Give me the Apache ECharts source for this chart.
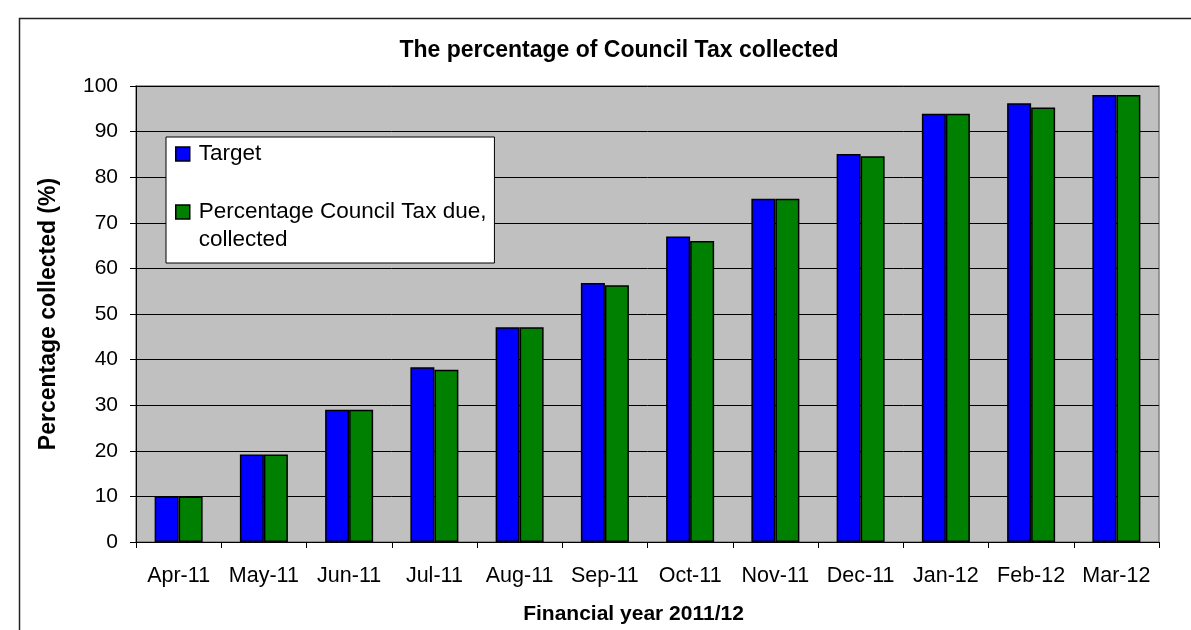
<!DOCTYPE html>
<html>
<head>
<meta charset="utf-8">
<script src="https://cdn.jsdelivr.net/npm/echarts@6/dist/echarts.min.js"></script>
<style>
html,body{margin:0;padding:0;background:#fff;}
#chart{width:1191px;height:630px;}
</style>
</head>
<body>
<div id="chart"></div>
<script>
var categories = ['Apr-11','May-11','Jun-11','Jul-11','Aug-11','Sep-11','Oct-11','Nov-11','Dec-11','Jan-12','Feb-12','Mar-12'];
var targetValues = [10, 19.2, 29.0, 38.3, 47.1, 56.8, 67.0, 75.3, 85.1, 93.9, 96.2, 98.0];
var collectedValues = [10, 19.2, 29.0, 37.8, 47.1, 56.3, 66.0, 75.3, 84.6, 93.9, 95.3, 98.0];
var seriesNames = ['Target', 'Percentage Council Tax due, collected'];

var FONT = '"Liberation Sans", Arial, sans-serif';
var chart = echarts.init(document.getElementById('chart'), null, {renderer: 'canvas'});
chart.setOption({
  backgroundColor: '#ffffff',
  animation: false,
  graphic: [{
    type: 'rect', left: 17, top: 16, z: -10,
    shape: {width: 1200, height: 700},
    style: {fill: 'none', stroke: '#222', lineWidth: 1.5}
  }],
  title: {
    text: 'The percentage of Council Tax collected',
    left: 614, top: 34, textAlign: 'center',
    textStyle: {fontFamily: FONT, fontSize: 23, fontWeight: 'bold', color: '#000', lineHeight: 23}
  },
  legend: {
    orient: 'vertical',
    left: 166, top: 137,
    padding: [3, 8, 9, 9],
    itemGap: 2,
    itemWidth: 14, itemHeight: 14,
    backgroundColor: '#ffffff',
    borderColor: '#000', borderWidth: 1,
    selectedMode: false,
    icon: 'rect',
    itemStyle: {borderColor: '#000', borderWidth: 1.5},
    textStyle: {
      fontFamily: FONT, fontSize: 22.5, color: '#000', lineHeight: 28,
      rich: {s: {width: 4, fontSize: 22.5, lineHeight: 28}}
    },
    formatter: function (name) {
      return name === seriesNames[1]
        ? '\n{s| }Percentage Council Tax due,\n{s| }collected'
        : '{s| }' + name;
    },
    data: [seriesNames[0], seriesNames[1]]
  },
  grid: {
    left: 136, right: 32, top: 86, bottom: 86,
    show: true, backgroundColor: '#C0C0C0', borderColor: '#808080', borderWidth: 1.5
  },
  xAxis: {
    type: 'category',
    data: categories,
    name: 'Financial year 2011/12{s| }',
    nameLocation: 'middle', nameGap: 62,
    nameTextStyle: {fontFamily: FONT, fontSize: 21, fontWeight: 'bold', color: '#000',
      rich: {s: {width: 28, fontSize: 21}}},
    axisLine: {lineStyle: {color: '#000', width: 1}},
    axisTick: {show: true, length: 6, lineStyle: {color: '#000'}},
    axisLabel: {fontFamily: FONT, fontSize: 21.5, color: '#000', margin: 23, interval: 0}
  },
  yAxis: {
    type: 'value', min: 0, max: 100, interval: 10,
    name: 'Percentage collected (%)',
    nameLocation: 'middle', nameGap: 76,
    nameTextStyle: {fontFamily: FONT, fontSize: 23, fontWeight: 'bold', color: '#000'},
    axisLine: {show: true, lineStyle: {color: '#000', width: 1}},
    axisTick: {show: true, length: 6, lineStyle: {color: '#000'}},
    axisLabel: {fontFamily: FONT, fontSize: 21, color: '#000', margin: 18},
    splitLine: {show: true, lineStyle: {color: '#000', width: 1}}
  },
  series: [{
    name: seriesNames[0], type: 'bar', data: targetValues,
    barWidth: 24, barGap: '0%',
    itemStyle: {color: '#0000FF', borderColor: '#000', borderWidth: 1.5}
  }, {
    name: seriesNames[1], type: 'bar', data: collectedValues,
    barWidth: 24, barGap: '0%',
    itemStyle: {color: '#008000', borderColor: '#000', borderWidth: 1.5}
  }]
});
</script>
</body>
</html>
